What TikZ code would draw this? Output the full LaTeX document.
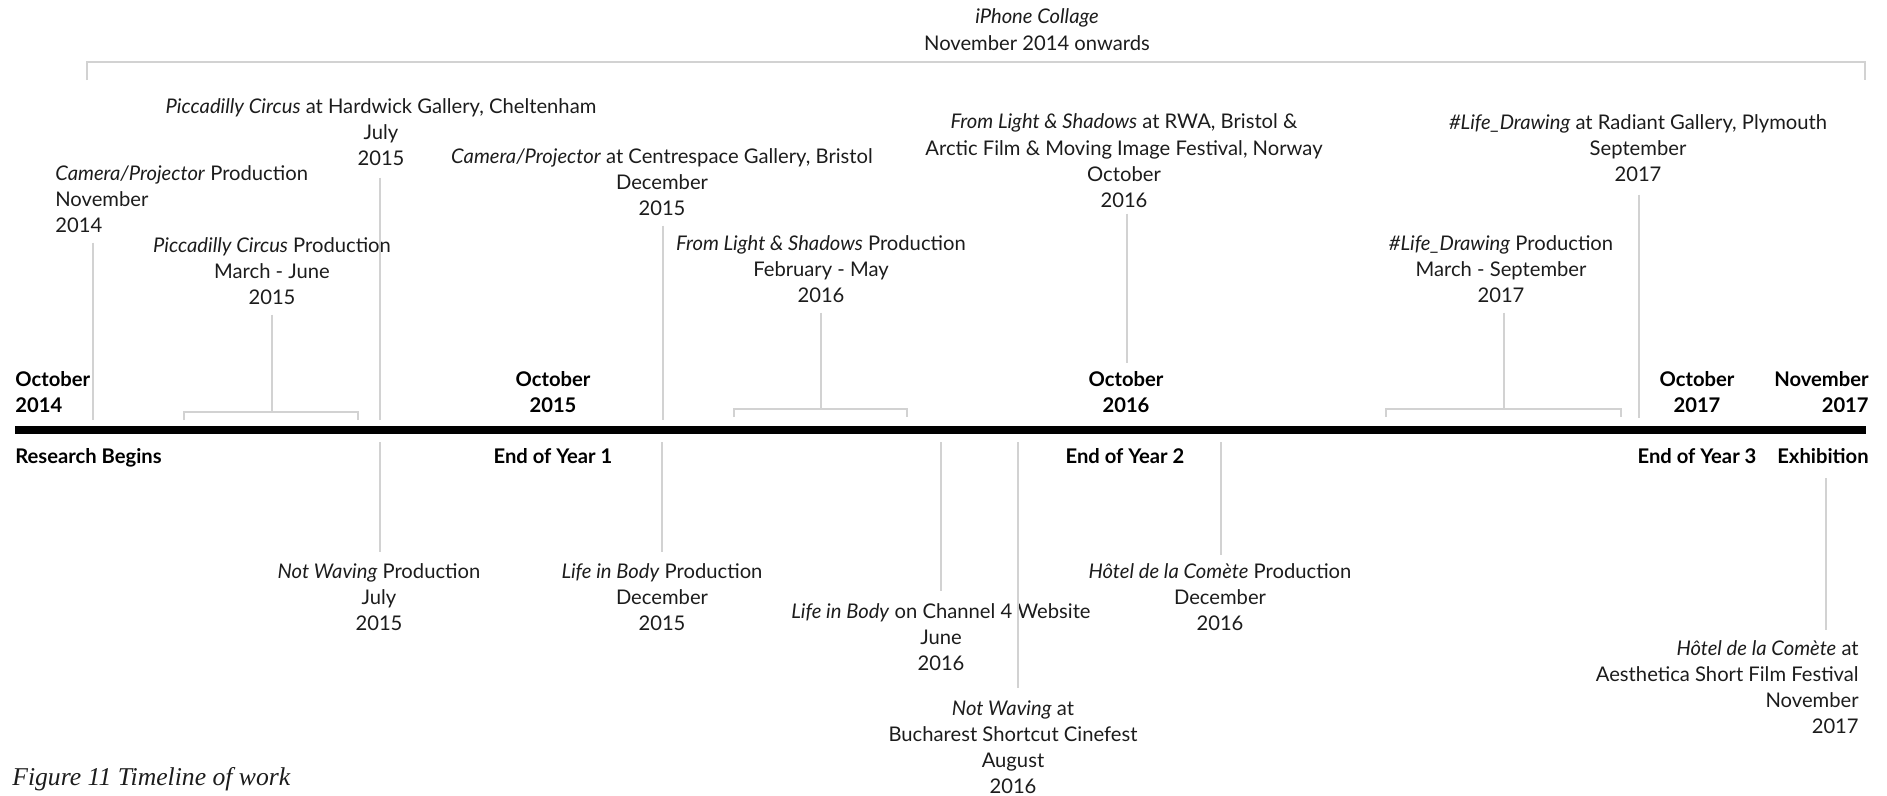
\documentclass[tikz,border=0pt]{standalone}
\usepackage{fontspec}
\setmainfont{Lato}
\newfontfamily\capfont{Liberation Serif}
\usetikzlibrary{calc}
\definecolor{Ink}{HTML}{1C1C1C}
\definecolor{Rule}{HTML}{D2D2D2}

\begin{document}
\begin{tikzpicture}[x=0.02cm,y=-0.02cm,
  every node/.style={font=\fontsize{11.5}{14.8}\selectfont,text=Ink,inner sep=0pt},
  evt/.style={align=center,anchor=base},
  yearlab/.style={font=\fontsize{11.5}{14.8}\selectfont\bfseries,text=black,align=center,anchor=base},
  stem/.style={Rule,line width=0.75pt}]
  \useasboundingbox (0,0) rectangle (1887,795);

  \node[evt] (iphone) at (1037,50) {\textit{iPhone Collage}\\November 2014 onwards};
  \coordinate (brl) at (87,80);
  \coordinate (brr) at (1865,80);
  \draw[stem] (brl) -- ++(0,-18) -| (brr);

  \coordinate (tl0) at (15,430);
  \coordinate (tl1) at (1866,430);
  \draw[line width=4pt] (tl0) -- (tl1);

  \node[yearlab,anchor=base west,align=left] (oct14) at (15,412) {October\\2014};
  \node[yearlab] (oct15) at (553,412) {October\\2015};
  \node[yearlab] (oct16) at (1126,412) {October\\2016};
  \node[yearlab] (oct17) at (1697,412) {October\\2017};
  \node[yearlab,anchor=base east,align=right] (nov17) at (1869,412) {November\\2017};
  \node[yearlab,anchor=base west] (resbeg) at (15,463) {Research Begins};
  \node[yearlab] (eoy1) at (553,463) {End of Year 1};
  \node[yearlab] (eoy2) at (1125,463) {End of Year 2};
  \node[yearlab] (eoy3) at (1697,463) {End of Year 3};
  \node[yearlab,anchor=base east] (exhib) at (1869,463) {Exhibition};

  \node[evt,anchor=base west,align=left] (cpprod) at (55,232) {\textit{Camera/Projector} Production\\November\\2014};
  \coordinate (u1) at (93,420);
  \draw[stem] (cpprod.south -| u1) ++(0,10) -- (u1);

  \node[evt] (pcprod) at (272,304) {\textit{Piccadilly Circus} Production\\March - June\\2015};
  \coordinate (pcl) at (184,420);
  \coordinate (pcr) at (358,420);
  \coordinate (pcm) at (272,412);
  \draw[stem] (pcl) |- (pcr |- pcm) -- (pcr);
  \draw[stem] (pcprod.south -| pcm) ++(0,10) -- (pcm);

  \node[evt] (pchard) at (381,165) {\textit{Piccadilly Circus} at Hardwick Gallery, Cheltenham\\July\\2015};
  \coordinate (u2) at (380,420);
  \draw[stem] (pchard.south -| u2) ++(0,12) -- (u2);

  \node[evt] (cpcentre) at (662,215) {\textit{Camera/Projector} at Centrespace Gallery, Bristol\\December\\2015};
  \coordinate (u3) at (663,420);
  \draw[stem] (cpcentre.south -| u3) ++(0,10) -- (u3);

  \node[evt] (flsprod) at (821,302) {\textit{From Light \& Shadows} Production\\February - May\\2016};
  \coordinate (fll) at (734,417);
  \coordinate (flr) at (907,417);
  \coordinate (flm) at (821,409);
  \draw[stem] (fll) |- (flr |- flm) -- (flr);
  \draw[stem] (flsprod.south -| flm) ++(0,10) -- (flm);

  \node[evt] (flsrwa) at (1124,207) {\textit{From Light \& Shadows} at RWA, Bristol \&\\Arctic Film \& Moving Image Festival, Norway\\October\\2016};
  \coordinate (u4) at (1127,363);
  \draw[stem] (flsrwa.south -| u4) ++(0,6) -- (u4);

  \node[evt] (ldradiant) at (1638,181) {\textit{\#Life\_Drawing} at Radiant Gallery, Plymouth\\September\\2017};
  \coordinate (u5) at (1639,418);
  \draw[stem] (ldradiant.south -| u5) ++(0,13) -- (u5);

  \node[evt] (ldprod) at (1501,302) {\textit{\#Life\_Drawing} Production\\March - September\\2017};
  \coordinate (ldl) at (1386,417);
  \coordinate (ldr) at (1621,417);
  \coordinate (ldm) at (1504,409);
  \draw[stem] (ldl) |- (ldr |- ldm) -- (ldr);
  \draw[stem] (ldprod.south -| ldm) ++(0,10) -- (ldm);

  \node[evt] (nwprod) at (379,630) {\textit{Not Waving} Production\\July\\2015};
  \coordinate (d1) at (380,442);
  \draw[stem] (d1) -- ($(nwprod.north -| d1)+(0,-11)$);

  \node[evt] (libprod) at (662,630) {\textit{Life in Body} Production\\December\\2015};
  \coordinate (d2) at (662,442);
  \draw[stem] (d2) -- ($(libprod.north -| d2)+(0,-11)$);

  \node[evt] (libch4) at (941,670) {\textit{Life in Body} on Channel 4 Website\\June\\2016};
  \coordinate (d3) at (941,442);
  \draw[stem] (d3) -- ($(libch4.north -| d3)+(0,-12)$);

  \node[evt] (nwbuch) at (1013,793) {\textit{Not Waving} at\\Bucharest Shortcut Cinefest\\August\\2016};
  \coordinate (d4) at (1018,442);
  \draw[stem] (d4) -- ($(nwbuch.north -| d4)+(0,-12)$);

  \node[evt] (hcprod) at (1220,630) {\textit{Hôtel de la Comète} Production\\December\\2016};
  \coordinate (d5) at (1221,442);
  \draw[stem] (d5) -- ($(hcprod.north -| d5)+(0,-8)$);

  \node[evt,anchor=base east,align=right] (hcaes) at (1859,733) {\textit{Hôtel de la Comète} at\\Aesthetica Short Film Festival\\November\\2017};
  \coordinate (d6) at (1826,478);
  \draw[stem] (d6) -- ($(hcaes.north -| d6)+(0,-10)$);

  \node[anchor=base west,font=\capfont\itshape\fontsize{14.6}{16}\selectfont] (fig) at (12,785) {Figure 11 Timeline of work};
\end{tikzpicture}
\end{document}
